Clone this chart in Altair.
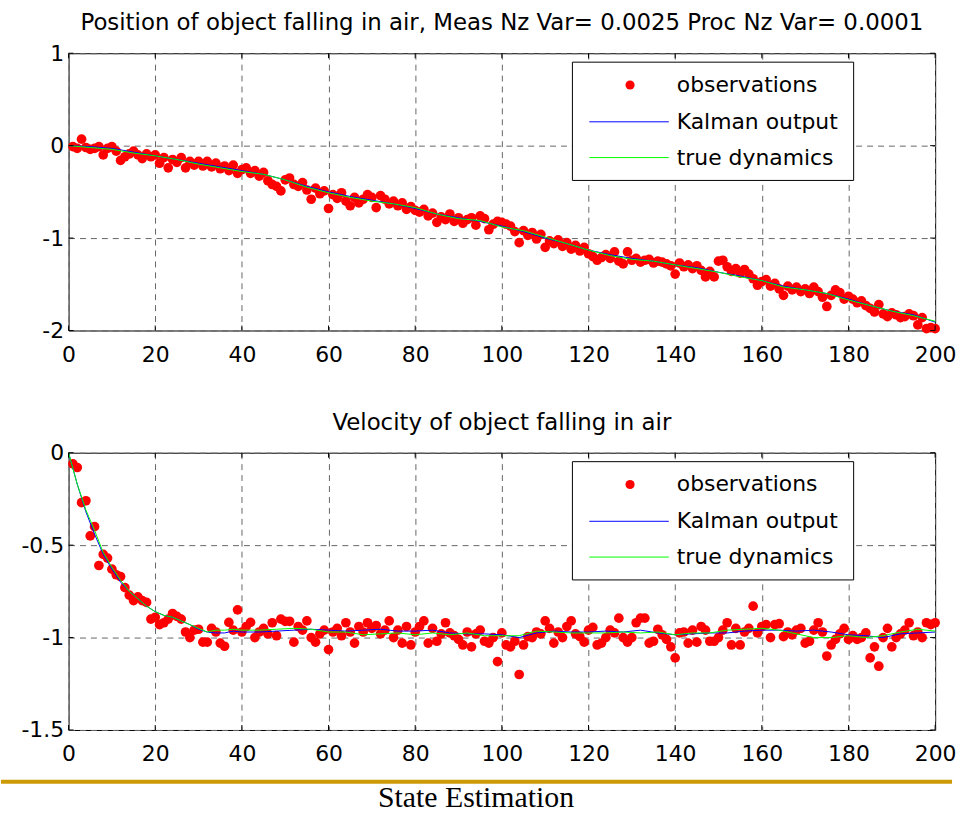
import altair as alt
import pandas as pd

# ---------------- data ----------------
obs_x = list(range(1, 201))

pos_obs = [
    -0.01, -0.03, 0.07, -0.02, -0.04, -0.03, -0.01, -0.10, -0.03, -0.01,
    -0.06, -0.16, -0.12, -0.09, -0.06, -0.10, -0.14, -0.09, -0.12, -0.10,
    -0.19, -0.13, -0.24, -0.15, -0.18, -0.13, -0.24, -0.17, -0.21, -0.17,
    -0.22, -0.17, -0.23, -0.19, -0.25, -0.22, -0.27, -0.21, -0.30, -0.26,
    -0.24, -0.30, -0.27, -0.33, -0.29, -0.38, -0.42, -0.44, -0.49, -0.37,
    -0.35, -0.42, -0.44, -0.40, -0.48, -0.58, -0.46, -0.52, -0.49, -0.68,
    -0.53, -0.57, -0.51, -0.60, -0.65, -0.56, -0.62, -0.58, -0.53, -0.56,
    -0.67, -0.54, -0.58, -0.63, -0.60, -0.65, -0.62, -0.69, -0.66, -0.70,
    -0.72, -0.69, -0.76, -0.73, -0.83, -0.77, -0.80, -0.74, -0.82, -0.78,
    -0.84, -0.80, -0.78, -0.86, -0.76, -0.79, -0.91, -0.85, -0.82, -0.83,
    -0.85, -0.87, -0.93, -1.05, -0.92, -0.97, -0.94, -1.01, -0.96, -1.10,
    -1.03, -1.06, -1.02, -1.09, -1.05, -1.12, -1.08, -1.14, -1.10, -1.17,
    -1.20, -1.24, -1.21, -1.18, -1.22, -1.15, -1.25, -1.28, -1.15, -1.24,
    -1.22, -1.26, -1.24, -1.23, -1.27, -1.25, -1.26, -1.28, -1.30, -1.39,
    -1.27, -1.31, -1.29, -1.33, -1.30, -1.35, -1.42, -1.36, -1.42, -1.25,
    -1.24, -1.31, -1.36, -1.33, -1.38, -1.34, -1.39, -1.44, -1.51, -1.47,
    -1.45, -1.52, -1.49, -1.55, -1.62, -1.52, -1.56, -1.53, -1.58, -1.55,
    -1.60, -1.53, -1.58, -1.64, -1.74, -1.62, -1.56, -1.59, -1.66, -1.63,
    -1.66, -1.70, -1.68, -1.73, -1.76, -1.80, -1.72, -1.82, -1.85, -1.81,
    -1.83, -1.86, -1.85, -1.82, -1.84, -1.94, -1.86, -1.98, -1.97, -1.98,
]

pos_line_x = list(range(0, 201, 5))
pos_kalman = [
    0.00, -0.01, -0.03, -0.07, -0.11, -0.15, -0.19, -0.23, -0.27, -0.31,
    -0.37, -0.44, -0.50, -0.55, -0.59, -0.63, -0.68, -0.74, -0.78, -0.82,
    -0.87, -0.93, -1.00, -1.06, -1.13, -1.18, -1.22, -1.25, -1.29, -1.32,
    -1.37, -1.41, -1.46, -1.52, -1.56, -1.60, -1.66, -1.73, -1.79, -1.83,
    -1.91,
]
pos_true = [
    0.00, -0.02, -0.04, -0.08, -0.11, -0.15, -0.20, -0.24, -0.28, -0.31,
    -0.37, -0.45, -0.51, -0.56, -0.60, -0.63, -0.67, -0.74, -0.79, -0.81,
    -0.88, -0.92, -0.99, -1.06, -1.13, -1.19, -1.23, -1.25, -1.29, -1.33,
    -1.37, -1.42, -1.46, -1.53, -1.56, -1.60, -1.67, -1.73, -1.79, -1.84,
    -1.90,
]

vel_obs = [
    -0.06, -0.08, -0.27, -0.26, -0.45, -0.40, -0.61, -0.55, -0.57, -0.63,
    -0.66, -0.67, -0.73, -0.77, -0.80, -0.78, -0.80, -0.81, -0.90, -0.89,
    -0.93, -0.92, -0.90, -0.87, -0.885, -0.90, -0.97, -1.00, -0.96, -0.955,
    -1.025, -1.025, -0.95, -0.97, -1.03, -1.047, -0.918, -0.96, -0.85, -0.97,
    -0.94, -0.918, -1.00, -0.97, -0.95, -0.98, -0.92, -0.99, -0.90, -0.912,
    -0.912, -1.025, -0.94, -0.96, -0.91, -1.00, -1.025, -0.98, -0.96, -1.065,
    -0.97, -0.95, -0.99, -0.92, -0.97, -1.03, -0.94, -0.97, -0.92, -0.95,
    -0.935, -0.98, -0.96, -0.91, -1.00, -0.96, -1.03, -0.94, -1.04, -0.97,
    -0.94, -0.91, -1.03, -0.95, -1.02, -0.98, -0.92, -0.975, -0.99, -1.01,
    -1.04, -0.97, -1.05, -0.98, -0.96, -1.02, -1.03, -1.00, -1.13, -0.975,
    -1.04, -1.05, -1.02, -1.20, -1.04, -0.995, -1.00, -0.97, -0.98, -0.91,
    -0.95, -1.03, -0.97, -1.00, -0.94, -0.91, -0.98, -0.995, -1.025, -0.96,
    -0.945, -1.04, -1.03, -1.00, -0.96, -0.975, -0.895, -1.00, -1.025, -1.00,
    -0.92, -0.895, -0.895, -1.03, -1.02, -0.955, -0.985, -1.01, -1.05, -1.11,
    -0.975, -0.97, -1.03, -0.96, -1.025, -0.94, -0.96, -1.02, -1.02, -1.00,
    -0.96, -0.92, -1.04, -0.95, -1.04, -0.97, -0.95, -0.83, -0.975, -0.94,
    -0.93, -1.00, -0.93, -0.925, -0.995, -0.97, -0.985, -0.96, -0.95, -1.03,
    -1.02, -0.96, -0.92, -0.97, -1.10, -1.04, -1.01, -0.98, -0.95, -1.01,
    -0.99, -1.01, -1.00, -0.975, -1.11, -1.05, -1.155, -1.00, -0.95, -1.05,
    -1.00, -0.98, -0.96, -0.92, -0.99, -0.97, -1.00, -0.92, -0.93, -0.92,
]

vel_line_x = list(range(0, 41, 2)) + list(range(44, 201, 4))
vel_kalman = [
    0.0, -0.17, -0.32, -0.44, -0.55, -0.63, -0.70, -0.75, -0.79, -0.83,
    -0.86, -0.88, -0.89, -0.91, -0.93, -0.955, -0.97, -0.975, -0.975, -0.965,
    -0.97,
    -0.97, -0.965, -0.96, -0.955, -0.96, -0.965, -0.96, -0.955, -0.965, -0.965,
    -0.96, -0.975, -0.98, -0.98, -0.985, -1.0, -0.975, -0.965, -0.97, -0.97,
    -0.965, -0.97, -0.96, -0.975, -0.985, -0.98, -0.975, -0.975, -0.965, -0.96,
    -0.96, -0.965, -0.96, -0.97, -0.985, -0.99, -1.0, -0.98, -0.975, -0.97,
]
vel_true = [
    0.0, -0.17, -0.31, -0.42, -0.54, -0.62, -0.69, -0.75, -0.79, -0.83,
    -0.86, -0.88, -0.89, -0.91, -0.93, -0.95, -0.97, -0.96, -0.96, -0.955,
    -0.96,
    -0.96, -0.955, -0.95, -0.955, -0.97, -0.97, -0.985, -0.98, -0.975, -0.985,
    -0.975, -0.985, -0.975, -0.99, -0.99, -0.99, -0.965, -0.97, -0.975, -0.975,
    -0.975, -0.97, -0.975, -0.97, -0.985, -0.975, -0.975, -0.96, -0.955, -0.95,
    -0.96, -0.98, -1.0, -1.0, -0.99, -1.0, -0.99, -0.97, -0.955, -0.965,
]

legend_labels = ["observations", "Kalman output", "true dynamics"]
x_ticks = list(range(0, 201, 20))

FONT = "DejaVu Sans"
one = pd.DataFrame({"k": [0]})


def panel(obs_y, line_x, kal, tru, ydom, yticks, title, footer=False):
    xs = alt.Scale(domain=[0, 200], nice=False, zero=False)
    ys = alt.Scale(domain=ydom, nice=False, zero=False)
    xax = alt.Axis(values=x_ticks, title=None, labelExpr="'' + datum.value",
                   labelFlush=False, labelOverlap=False)
    yax = alt.Axis(values=yticks, title=None, labelExpr="'' + datum.value",
                   labelFlush=False, labelOverlap=False)

    obs_df = pd.DataFrame({"x": obs_x, "y": obs_y})
    line_df = pd.DataFrame({"x": line_x, "kal": kal, "tru": tru})
    xt_df = pd.DataFrame({"t": x_ticks})
    yt_df = pd.DataFrame({"t": yticks})

    pts = alt.Chart(obs_df).mark_circle(color="#ff0000", size=95, opacity=1).encode(
        x=alt.X("x:Q", scale=xs, axis=xax),
        y=alt.Y("y:Q", scale=ys, axis=yax),
    )
    kl = alt.Chart(line_df).mark_line(color="#0000ff", strokeWidth=1).encode(
        x=alt.X("x:Q", scale=xs), y=alt.Y("kal:Q", scale=ys)
    )
    tl = alt.Chart(line_df).mark_line(color="#00ff00", strokeWidth=1).encode(
        x=alt.X("x:Q", scale=xs), y=alt.Y("tru:Q", scale=ys)
    )

    # small inward ticks on all four sides (MATLAB box style)
    tick_layers = [
        alt.Chart(xt_df).mark_rule(color="black", strokeWidth=1).encode(
            x=alt.X("t:Q", scale=xs), y=alt.value(279), y2=alt.value(274)),
        alt.Chart(xt_df).mark_rule(color="black", strokeWidth=1).encode(
            x=alt.X("t:Q", scale=xs), y=alt.value(0), y2=alt.value(5)),
        alt.Chart(yt_df).mark_rule(color="black", strokeWidth=1).encode(
            y=alt.Y("t:Q", scale=ys), x=alt.value(0), x2=alt.value(5)),
        alt.Chart(yt_df).mark_rule(color="black", strokeWidth=1).encode(
            y=alt.Y("t:Q", scale=ys), x=alt.value(872), x2=alt.value(867)),
    ]

    box = alt.Chart(one).mark_rect(fill="white", stroke="black", strokeWidth=1).encode(
        x=alt.value(507), x2=alt.value(790), y=alt.value(9), y2=alt.value(128)
    )
    dot = alt.Chart(one).mark_circle(color="#ff0000", size=85, opacity=1).encode(
        x=alt.value(565), y=alt.value(32)
    )
    lb = alt.Chart(one).mark_rule(color="#0000ff", strokeWidth=1).encode(
        x=alt.value(524), x2=alt.value(604), y=alt.value(69)
    )
    lg = alt.Chart(one).mark_rule(color="#00ff00", strokeWidth=1).encode(
        x=alt.value(524), x2=alt.value(604), y=alt.value(105)
    )
    texts = [
        alt.Chart(one).mark_text(align="left", baseline="middle", font=FONT,
                                 fontSize=22, color="black").encode(
            x=alt.value(612), y=alt.value(yy), text=alt.value(lbl))
        for lbl, yy in zip(legend_labels, [32, 69, 105])
    ]
    layers = [pts, kl, tl] + tick_layers + [box, dot, lb, lg] + texts
    if footer:
        bar = alt.Chart(one).mark_rect(color="#cc9a06").encode(
            x=alt.value(-68), x2=alt.value(889), y=alt.value(329), y2=alt.value(333)
        )
        ftxt = alt.Chart(one).mark_text(font="Liberation Serif", fontSize=30,
                                        align="center", baseline="alphabetic",
                                        color="black").encode(
            x=alt.value(410), y=alt.value(357), text=alt.value("State Estimation"))
        layers += [bar, ftxt]
    return alt.layer(*layers).properties(
        width=872, height=279,
        title=alt.TitleParams(title, font=FONT, fontSize=23, fontWeight="normal",
                              color="black", anchor="middle", offset=7),
    )


top = panel(pos_obs, pos_line_x, pos_kalman, pos_true, [-2, 1], [-2, -1, 0, 1],
            "Position of object falling in air, Meas Nz Var= 0.0025 Proc Nz Var= 0.0001")
bottom = panel(vel_obs, vel_line_x, vel_kalman, vel_true, [-1.5, 0],
               [-1.5, -1, -0.5, 0], "Velocity of object falling in air", footer=True)

chart = alt.vconcat(top, bottom, spacing=45).properties(
    padding={"left": 0, "top": 9, "right": 0, "bottom": 0},
    background="white",
).configure_view(stroke="black", strokeWidth=1).configure_axis(
    labelFont=FONT, labelFontSize=22, labelColor="black", ticks=False,
    domain=False, grid=True, gridColor="#666666", gridDash=[6, 5], gridWidth=1,
    gridOpacity=1, labelPadding=5,
).configure_axisX(labelPadding=14)

chart.save("out.html", embed_options={"renderer": "svg", "actions": False})
